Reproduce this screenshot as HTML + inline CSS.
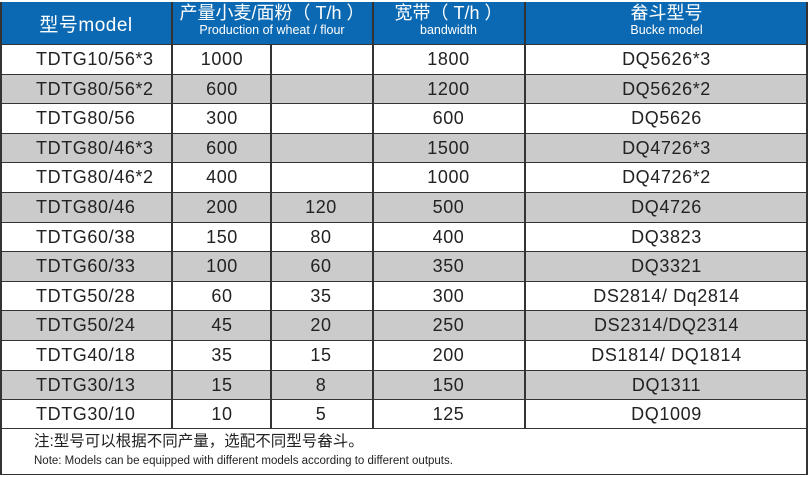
<!DOCTYPE html>
<html><head><meta charset="utf-8"><style>
body{margin:0;width:810px;height:477px;background:#fff;position:relative;overflow:hidden;font-family:"Liberation Sans","Noto Sans CJK SC",sans-serif;}
.hd{position:absolute;left:0;top:2px;width:808px;height:42px;background:#0b69b3;}
.row{position:absolute;left:0;width:808px;height:29.6px;border-top:1px solid #333;box-sizing:border-box;}
.g{background:#cbcbcb;}
.c{position:absolute;top:0;height:100%;text-align:center;font-size:18px;letter-spacing:0.6px;color:#222;line-height:29px;}
.v{position:absolute;top:2px;width:1.5px;background:#333;}
.ht{position:absolute;color:#fff;text-align:center;}
</style></head><body>
<div class="hd"></div>
<div class="ht" style="left:0;width:172px;top:10px;font-size:19px;letter-spacing:0.5px">型号model</div>
<div class="ht" style="left:172px;width:200px;top:3px;font-size:18px;line-height:21px">产量小麦/面粉（ T/h ）<br><span style="font-size:12.5px;line-height:12px;display:block">Production of wheat / flour</span></div>
<div class="ht" style="left:372px;width:153px;top:3px;font-size:18px;line-height:21px">宽带（ T/h ）<br><span style="font-size:12.5px;line-height:12px;display:block">bandwidth</span></div>
<div class="ht" style="left:525px;width:283px;top:3px;font-size:18px;line-height:21px">畚斗型号<br><span style="font-size:12.5px;line-height:12px;display:block">Bucke model</span></div>
<div id="rows"></div>
<div style="position:absolute;left:0;top:428px;width:808px;height:47px;border-top:1px solid #333;border-bottom:1.5px solid #333;box-sizing:border-box"></div>
<div style="position:absolute;left:34px;top:433px;font-size:15.5px;line-height:18px;color:#222">注:型号可以根据不同产量，选配不同型号畚斗。</div>
<div style="position:absolute;left:34px;top:455px;font-size:11.5px;line-height:13px;color:#222">Note: Models can be equipped with different models according to different outputs.</div>
<div class="v" style="left:0;height:473px"></div>
<div class="v" style="left:806px;height:473px"></div>
<div class="v" style="left:171px;height:426px"></div>
<div class="v" style="left:372px;height:426px"></div>
<div class="v" style="left:524px;height:426px"></div>
<div class="v" style="left:270px;top:44px;height:384px"></div>
<script>
var d=[["TDTG10/56*3","1000","","1800","DQ5626*3"],["TDTG80/56*2","600","","1200","DQ5626*2"],["TDTG80/56","300","","600","DQ5626"],["TDTG80/46*3","600","","1500","DQ4726*3"],["TDTG80/46*2","400","","1000","DQ4726*2"],["TDTG80/46","200","120","500","DQ4726"],["TDTG60/38","150","80","400","DQ3823"],["TDTG60/33","100","60","350","DQ3321"],["TDTG50/28","60","35","300","DS2814/ Dq2814"],["TDTG50/24","45","20","250","DS2314/DQ2314"],["TDTG40/18","35","15","200","DS1814/ DQ1814"],["TDTG30/13","15","8","150","DQ1311"],["TDTG30/10","10","5","125","DQ1009"]];
var h="";
d.forEach(function(r,i){h+='<div class="row'+(i%2?' g':'')+'" style="top:'+(44+i*29.6)+'px">';
h+='<div class="c" style="left:36px;text-align:left">'+r[0]+'</div>';
var cols=[null,[172,100],[271,100],[372,153],[525,283]];
for(var j=1;j<5;j++)h+='<div class="c" style="left:'+cols[j][0]+'px;width:'+cols[j][1]+'px">'+r[j]+'</div>';
h+='</div>';});
document.getElementById('rows').innerHTML=h;
</script>
</body></html>
